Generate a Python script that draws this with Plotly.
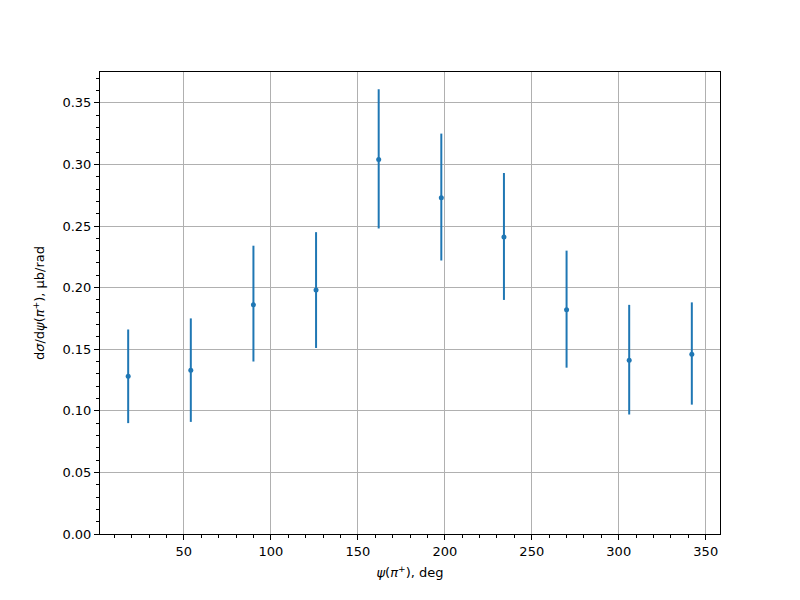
import plotly.graph_objects as go

psi_deg = [18, 54, 90, 126, 162, 198, 234, 270, 306, 342]
dsigma = [0.128, 0.133, 0.186, 0.198, 0.304, 0.273, 0.241, 0.182, 0.141, 0.146]
err_plus = [0.038, 0.042, 0.048, 0.047, 0.057, 0.052, 0.052, 0.048, 0.045, 0.042]
err_minus = [0.038, 0.042, 0.046, 0.047, 0.056, 0.051, 0.051, 0.047, 0.044, 0.041]
x_ticks = [50, 100, 150, 200, 250, 300, 350]
y_ticks = [0.00, 0.05, 0.10, 0.15, 0.20, 0.25, 0.30, 0.35]

color = "#1f77b4"
font = "DejaVu Sans, sans-serif"

fig = go.Figure()
fig.add_trace(go.Scatter(
    x=psi_deg, y=dsigma, mode="markers",
    marker=dict(color=color, size=5),
    error_y=dict(type="data", symmetric=False, array=err_plus, arrayminus=err_minus,
                 color=color, thickness=2, width=0),
    showlegend=False,
))

axis_common = dict(
    showline=True, linecolor="black", linewidth=1, mirror=True,
    ticks="outside", ticklen=5, tickwidth=1, tickcolor="black",
    showgrid=True, gridcolor="#b0b0b0", gridwidth=1,
    zeroline=False,
    tickfont=dict(family=font, size=13, color="black"),
)

fig.update_xaxes(
    **axis_common,
    range=[1.8, 358.2],
    tickvals=x_ticks,
    ticktext=[str(v) for v in x_ticks],
    minor=dict(tick0=0, dtick=10, ticks="outside", ticklen=3, tickwidth=1,
               tickcolor="black", showgrid=False),
    title=dict(text="<i>ψ</i>(<i>π</i><sup>+</sup>), deg",
               font=dict(family=font, size=13, color="black"), standoff=10),
)
fig.update_yaxes(
    **axis_common,
    range=[0, 0.375],
    tickvals=y_ticks,
    ticktext=[f"{v:.2f}" for v in y_ticks],
    minor=dict(tick0=0, dtick=0.01, ticks="outside", ticklen=3, tickwidth=1,
               tickcolor="black", showgrid=False),
    title=dict(text="d<i>σ</i>/d<i>ψ</i>(<i>π</i><sup>+</sup>), μb/rad",
               font=dict(family=font, size=13, color="black"), standoff=14),
)

fig.update_layout(
    width=800, height=600,
    margin=dict(l=92, r=88, t=64, b=74),
    plot_bgcolor="white", paper_bgcolor="white",
    font=dict(family=font, size=13, color="black"),
)

fig.write_html("out.html")
